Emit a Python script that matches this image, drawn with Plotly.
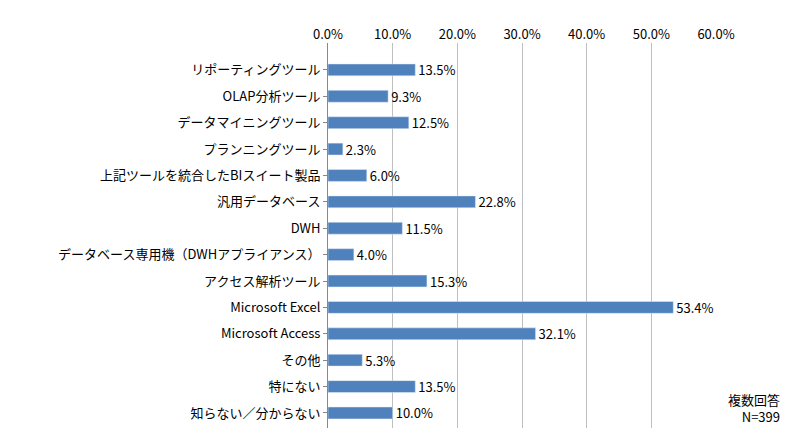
import plotly.graph_objects as go

categories = ["リポーティングツール","OLAP分析ツール","データマイニングツール","プランニングツール",
              "上記ツールを統合したBIスイート製品","汎用データベース","DWH",
              "データベース専用機（DWHアプライアンス）","アクセス解析ツール","Microsoft Excel",
              "Microsoft Access","その他","特にない","知らない／分からない"]
values = [13.5,9.3,12.5,2.3,6.0,22.8,11.5,4.0,15.3,53.4,32.1,5.3,13.5,10.0]
tick_vals = [0,10,20,30,40,50,60]
tick_text = [f"{v:.1f}%" for v in tick_vals]

fig = go.Figure(go.Bar(
    x=values, y=categories, orientation="h",
    marker_color="#4F81BD", width=0.45,
    text=[f"{v:.1f}%" for v in values], textposition="outside",
    constraintext="none",
    textfont=dict(size=13, color="#000"), cliponaxis=False))

fig.update_layout(
    width=800, height=435, plot_bgcolor="white", paper_bgcolor="white",
    margin=dict(l=320, r=92, t=35, b=15),
    font=dict(family="Noto Sans CJK JP", size=13, color="#000"),
    showlegend=False,
    xaxis=dict(side="top", range=[0,60], tickvals=tick_vals, ticktext=tick_text,
               showgrid=True, gridcolor="#BFBFBF", zeroline=False,
               showline=False, ticks="", automargin=False),
    yaxis=dict(range=[13.57, -1.02], showline=True, linecolor="#888", ticks="outside",
               ticklen=4, tickcolor="#888", automargin=False),
    annotations=[dict(text="複数回答<br>N=399", x=1.17, y=0.0, xref="paper", yref="paper",
                      xanchor="right", yanchor="bottom", showarrow=False, align="right",
                      font=dict(size=13))]
)
fig.write_html("out.html")
